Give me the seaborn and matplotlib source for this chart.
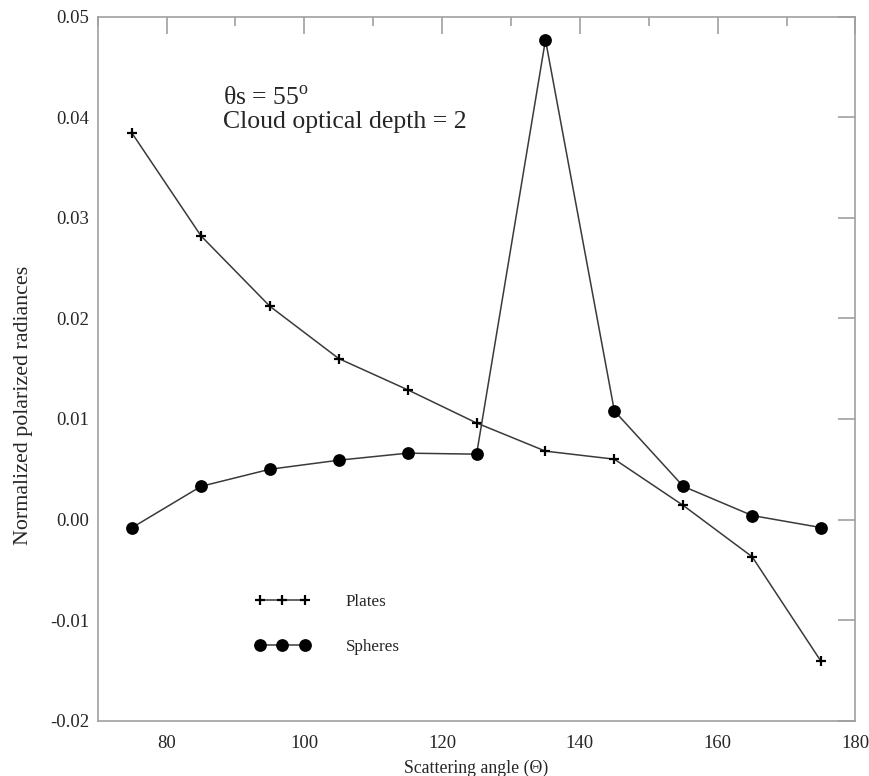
import matplotlib
matplotlib.use("Agg")
import matplotlib.pyplot as plt
from matplotlib.ticker import MultipleLocator
import numpy as np
import pandas as pd
import seaborn as sns

# Scattering angles (degrees)
angles = [75, 85, 95, 105, 115, 125, 135, 145, 155, 165, 175]

# Normalized polarized radiances
plates = [0.0384, 0.0282, 0.0212, 0.0160, 0.0129, 0.0096,
          0.0068, 0.0060, 0.0014, -0.0037, -0.0141]
spheres = [-0.0008, 0.0033, 0.0050, 0.0059, 0.0066, 0.0065,
           0.0477, 0.0108, 0.0033, 0.0004, -0.0008]

series_names = ["Plates", "Spheres"]
xticks = [80, 100, 120, 140, 160, 180]
yticks = [-0.02, -0.01, 0.00, 0.01, 0.02, 0.03, 0.04, 0.05]
ytick_labels = ["-0.02", "-0.01", "0.00", "0.01", "0.02", "0.03", "0.04", "0.05"]

sns.set_style("white")
plt.rcParams["font.family"] = ["Liberation Serif", "DejaVu Serif"]
plt.rcParams["mathtext.fontset"] = "custom"
plt.rcParams["mathtext.rm"] = "Liberation Serif"

df_plates = pd.DataFrame({"angle": angles, "value": plates})
df_spheres = pd.DataFrame({"angle": angles, "value": spheres})

fig = plt.figure(figsize=(8.7, 7.76), dpi=100)
ax = fig.add_axes([0.1123, 0.0713, 0.871, 0.9072])

line_color = "#3a3a3a"
sns.lineplot(data=df_plates, x="angle", y="value", ax=ax, color=line_color,
             linewidth=1.1, marker="+", markersize=7, markeredgewidth=1.6,
             markeredgecolor="black", label=series_names[0], legend=False)
sns.lineplot(data=df_spheres, x="angle", y="value", ax=ax, color=line_color,
             linewidth=1.1, marker="o", markersize=9.2, markeredgewidth=0,
             markerfacecolor="black", label=series_names[1], legend=False)

ax.set_xlim(70, 180)
ax.set_ylim(-0.02, 0.05)
ax.set_xticks(xticks)
ax.xaxis.set_minor_locator(MultipleLocator(10))
ax.set_yticks(yticks)
ax.set_yticklabels(ytick_labels)

spine_color = "#a0a0a0"
for s in ax.spines.values():
    s.set_color(spine_color)
    s.set_linewidth(1.2)
ax.tick_params(which="both", direction="in", top=True, right=True,
               color=spine_color, labelsize=13.5, width=1.2)
ax.tick_params(axis="x", pad=10)
ax.tick_params(axis="y", pad=6)
ax.tick_params(which="major", length=12)
ax.tick_params(which="minor", length=6.5)
ax.tick_params(axis="y", which="minor", left=False, right=False)

ax.set_xlabel("Scattering angle (Θ)", fontsize=12.8, labelpad=6)
ax.set_ylabel("Normalized polarized radiances", fontsize=15.8)
ax.yaxis.set_label_coords(-0.0854, 0.448)

ax.text(88.2, 0.0431, "θs = 55$^{\\mathrm{o}}$\nCloud optical depth = 2",
        fontsize=18.5, va="top", ha="left", linespacing=1.05)

handles = ax.get_lines()[:2]
ax.legend(handles=handles, labels=series_names, loc="center left",
          bbox_to_anchor=(0.207, 0.137), frameon=False, numpoints=3,
          handlelength=3.23, handletextpad=2.12, labelspacing=1.68,
          fontsize=12.3, borderpad=0, borderaxespad=0)

fig.savefig("out.png", dpi=100, facecolor="white")
